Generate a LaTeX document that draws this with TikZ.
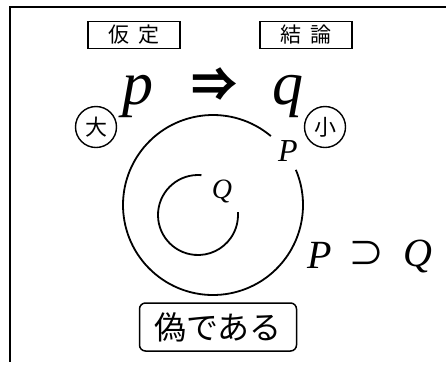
\documentclass[tikz,border=0pt]{standalone}
\usepackage{fontspec}
\setmainfont{Liberation Serif}
\newfontfamily\jp{Noto Sans CJK JP}
\newcommand{\fsz}[1]{\fontsize{#1}{#1}\selectfont}
\begin{document}
\begin{tikzpicture}[x=1pt,y=-1pt,
  labbox/.style={draw,line width=1.3pt,minimum width=92pt,minimum height=27pt,inner sep=0pt,font=\jp\fsz{21}},
  bigletter/.style={inner sep=0pt,anchor=base,font=\itshape\fsz{62}},
  setletter/.style={inner sep=0pt,anchor=base,font=\itshape\fsz{40}},
  marker/.style={circle,draw,line width=1.4pt,minimum size=41pt,inner sep=0pt,font=\jp\fsz{22}},
  setline/.style={line width=1.8pt}]
\useasboundingbox (0,0) rectangle (446,365);
\draw[line width=2.6pt] (446,7) -- (10,7) -- (10,362);
\node[labbox] (hyp) at (134,35) {仮\hspace{0.4em}定};
\node[labbox] (con) at (306,35) {結\hspace{0.4em}論};
\node[bigletter] (p) at (138,104) {p};
\node[inner sep=0pt] (imp) at (214,85) {\jp\bfseries\fsz{46}⇒};
\node[bigletter] (q) at (288,104) {q};
\node[marker] (dai) at (96,127) {大};
\node[marker] (sho) at (325,127) {小};
\coordinate (outc) at (213,205);
\coordinate (inc) at (198,215);
\draw[setline] (outc) ++(-50:90) arc[start angle=-50,end angle=-383,radius=90];
\draw[setline] (inc) ++(-85:40) arc[start angle=-85,end angle=-364,radius=40];
\node[inner sep=0pt,anchor=base,font=\itshape\fsz{32}] (pout) at (288,161) {P};
\node[inner sep=0pt,anchor=base,font=\itshape\fsz{28}] (qin) at (222,198) {Q};
\node[setletter] (pl) at (320,268) {P};
\node[inner sep=0pt] (sup) at (366,254) {\jp\fsz{36}⊃};
\node[setletter] (ql) at (418,266) {Q};
\node[draw,line width=1.5pt,rounded corners=6pt,minimum width=157pt,minimum height=48pt,inner sep=0pt,font=\jp\fsz{32}] (false) at (218,327) {偽である};
\end{tikzpicture}
\end{document}
